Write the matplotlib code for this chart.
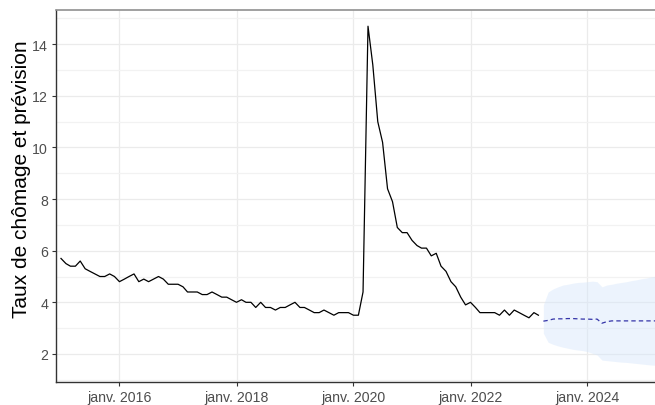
import matplotlib
matplotlib.use("Agg")
import matplotlib.pyplot as plt
import pandas as pd

# ---- data ----
obs_start = "2015-01-01"
unemployment = [
    5.7, 5.5, 5.4, 5.4, 5.6, 5.3, 5.2, 5.1, 5.0, 5.0, 5.1, 5.0,   # 2015
    4.8, 4.9, 5.0, 5.1, 4.8, 4.9, 4.8, 4.9, 5.0, 4.9, 4.7, 4.7,   # 2016
    4.7, 4.6, 4.4, 4.4, 4.4, 4.3, 4.3, 4.4, 4.3, 4.2, 4.2, 4.1,   # 2017
    4.0, 4.1, 4.0, 4.0, 3.8, 4.0, 3.8, 3.8, 3.7, 3.8, 3.8, 3.9,   # 2018
    4.0, 3.8, 3.8, 3.7, 3.6, 3.6, 3.7, 3.6, 3.5, 3.6, 3.6, 3.6,   # 2019
    3.5, 3.5, 4.4, 14.7, 13.2, 11.0, 10.2, 8.4, 7.9, 6.9, 6.7, 6.7,  # 2020
    6.4, 6.2, 6.1, 6.1, 5.8, 5.9, 5.4, 5.2, 4.8, 4.6, 4.2, 3.9,   # 2021
    4.0, 3.8, 3.6, 3.6, 3.6, 3.6, 3.5, 3.7, 3.5, 3.7, 3.6, 3.5,   # 2022
    3.4, 3.6, 3.5,                                                # 2023
]

fc_start = "2023-04-01"
forecast = [3.27, 3.30, 3.35, 3.36, 3.36, 3.37, 3.37, 3.36, 3.35, 3.35, 3.34, 3.35,
            3.19, 3.25, 3.28, 3.28, 3.28, 3.28, 3.28, 3.28, 3.28, 3.28, 3.28, 3.28]
fc_lower = [2.80, 2.45, 2.37, 2.31, 2.26, 2.22, 2.18, 2.15, 2.13, 2.09, 2.02, 1.96,
            1.76, 1.74, 1.72, 1.70, 1.68, 1.67, 1.65, 1.63, 1.61, 1.59, 1.57, 1.56]
fc_upper = [3.90, 4.40, 4.52, 4.60, 4.67, 4.70, 4.74, 4.77, 4.78, 4.80, 4.82, 4.80,
            4.60, 4.67, 4.70, 4.74, 4.77, 4.80, 4.84, 4.87, 4.91, 4.94, 4.98, 5.01]

x_ticks = ["2016-01-01", "2018-01-01", "2020-01-01", "2022-01-01", "2024-01-01"]
x_tick_labels = ["janv. 2016", "janv. 2018", "janv. 2020", "janv. 2022", "janv. 2024"]
y_ticks = [2, 4, 6, 8, 10, 12, 14]
y_label = "Taux de chômage et prévision"

# ---- plot ----
plt.rcParams["font.family"] = ["Liberation Sans", "DejaVu Sans"]

obs_dates = pd.date_range(obs_start, periods=len(unemployment), freq="MS")
fc_dates = pd.date_range(fc_start, periods=len(forecast), freq="MS")

fig = plt.figure(figsize=(6.55, 4.06), dpi=100)
ax = fig.add_axes([55.7 / 655, 22.7 / 406, 1 - 55.7 / 655, (383.3 - 10.7) / 406])

ax.fill_between(fc_dates, fc_lower, fc_upper, color="#D6E6FB", alpha=0.45,
                linewidth=0, zorder=1)
ax.plot(obs_dates, unemployment, color="black", lw=0.9, zorder=3)
ax.plot(fc_dates, forecast, color="#3434A8", lw=0.9, ls=(0, (3.5, 2.5)), zorder=3)

ax.set_xlim(pd.Timestamp("2014-11-29"), pd.Timestamp("2025-02-26"))
ax.set_ylim(0.90, 15.34)

ax.set_xticks([pd.Timestamp(t) for t in x_ticks])
ax.set_xticklabels(x_tick_labels)
ax.set_yticks(y_ticks)
ax.set_yticks([1, 3, 5, 7, 9, 11, 13, 15], minor=True)

ax.grid(True, which="major", axis="both", color="#EBEBEB", lw=0.9, zorder=0)
ax.grid(True, which="minor", axis="y", color="#F2F2F2", lw=0.9, zorder=0)
ax.set_axisbelow(True)

ax.tick_params(axis="both", which="major", length=3, width=0.8, color="#333333",
               labelcolor="#4D4D4D", labelsize=10.2, pad=2.5)
ax.tick_params(axis="both", which="minor", length=0)

for side in ["left", "bottom"]:
    ax.spines[side].set_color("#333333")
    ax.spines[side].set_linewidth(1.0)
ax.spines["top"].set_color("#909090")
ax.spines["top"].set_linewidth(1.2)
ax.spines["right"].set_visible(False)

ax.set_ylabel(y_label, fontsize=15, color="black")
ax.yaxis.set_label_coords((31 - 55.7) / 599.3, (383.3 - 179) / 372.6)

fig.savefig("out.png", dpi=100)
